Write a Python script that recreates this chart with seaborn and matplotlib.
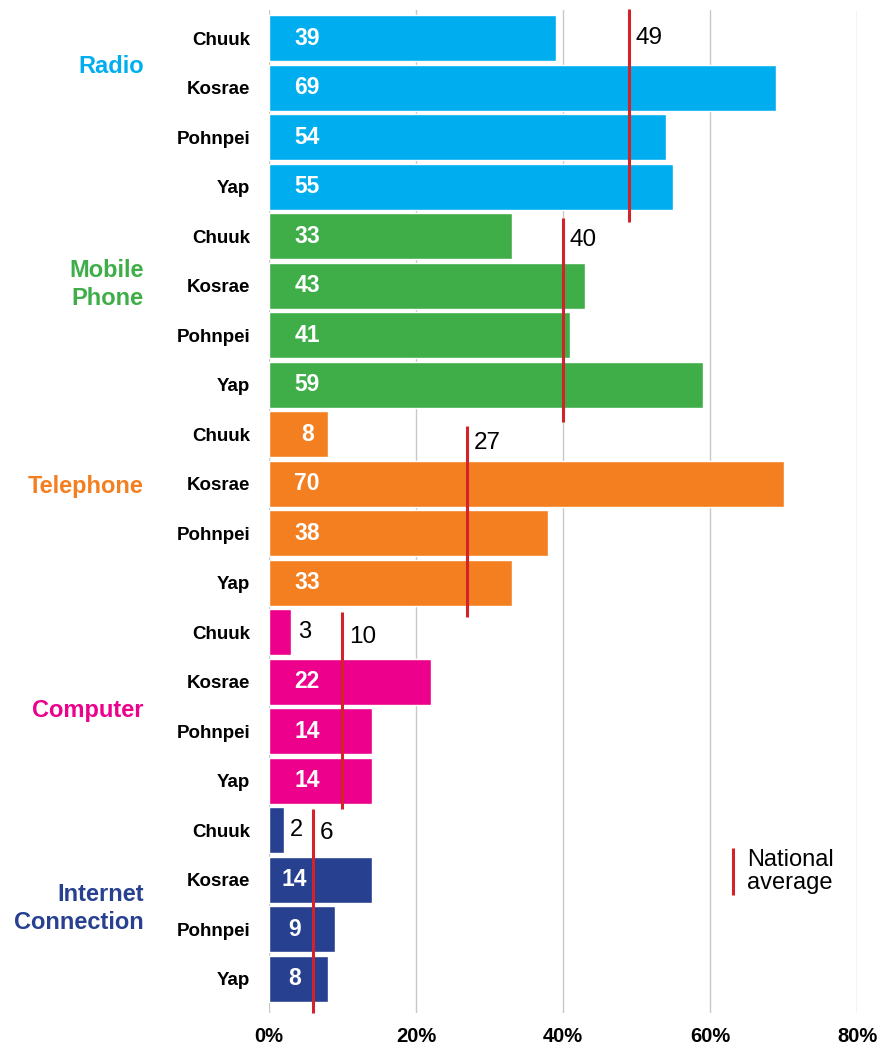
import matplotlib
matplotlib.use("Agg")
import matplotlib.pyplot as plt
import seaborn as sns
import pandas as pd

# Share of households with each communication channel, by state (%)
categories = ["Radio", "Mobile\nPhone", "Telephone", "Computer", "Internet\nConnection"]
states = ["Chuuk", "Kosrae", "Pohnpei", "Yap"]
radio = [39, 69, 54, 55]
mobile_phone = [33, 43, 41, 59]
telephone = [8, 70, 38, 33]
computer = [3, 22, 14, 14]
internet = [2, 14, 9, 8]
national_average = [49, 40, 27, 10, 6]
x_ticks = [0, 20, 40, 60, 80]
x_tick_labels = ["0%", "20%", "40%", "60%", "80%"]

colors = ["#00AEEF", "#3FAE49", "#F47F20", "#EC008C", "#27408F"]
avg_color = "#D2232A"

series = [radio, mobile_phone, telephone, computer, internet]
rows = []
for cat, vals in zip(categories, series):
    for st, v in zip(states, vals):
        rows.append({"row": f"{cat}|{st}", "category": cat, "state": st, "value": v})
df = pd.DataFrame(rows)

sns.set_theme(style="white")
plt.rcParams["font.family"] = ["Liberation Sans", "DejaVu Sans"]

fig = plt.figure(figsize=(8.87, 10.48), dpi=100)
ax = fig.add_axes([269 / 887, 1 - 1013 / 1048, (857 - 269) / 887, (1013 - 10) / 1048])

for xv in x_ticks:
    ax.axvline(xv, color="#C8C8C8", lw=1.0, zorder=0)

sns.barplot(data=df, x="value", y="row", hue="category", palette=colors,
            dodge=False, width=0.93, legend=False, ax=ax, saturation=1,
            zorder=2)

ax.set_xlim(0, 80)
ax.set_ylim(len(df) - 1 + 0.69, -0.57)
ax.set_xticks(x_ticks)
ax.set_xticklabels(x_tick_labels, fontsize=14.5, fontweight="bold", color="black")
ax.set_yticks(range(len(df)))
ax.set_yticklabels(df["state"], fontsize=13.5, fontweight="bold", color="black")
ax.tick_params(axis="y", length=0, pad=13.5)
ax.tick_params(axis="x", length=0, pad=10)
ax.set_xlabel("")
ax.set_ylabel("")
for s in ax.spines.values():
    s.set_visible(False)

n = len(states)

# Value labels: inside the bar (white) or just past its end (black)
for i, (cat, v) in enumerate(zip(df["category"], df["value"])):
    inner_x = 3.5 if cat == categories[-1] else 5.2
    if v >= 6:
        ax.text(inner_x, i, f"{v}", color="white", fontsize=16.5, fontweight="bold",
                ha="center", va="center", zorder=4)
    else:
        ax.text(v + 0.9, i, f"{v}", color="black", fontsize=17,
                ha="left", va="center", zorder=4)

# National average markers per group (start/end offsets in row units)
line_start = [-0.1, 0.14, 0.34, 0.1, 0.06]
line_end = [0.22, 0.26, 0.2, 0.06, 0.18]
label_dy = [0.0, 0.08, 0.18, 0.1, 0.06]
for g, avg in enumerate(national_average):
    top = g * n - 0.5
    ax.plot([avg, avg], [top + line_start[g], top + n + line_end[g]], color=avg_color,
            lw=2.2, zorder=5, solid_capstyle="butt", clip_on=False)
    ax.text(avg + 0.9, g * n + label_dy[g], f"{avg}", color="black", fontsize=17.5,
            ha="left", va="center", zorder=5)

# Group titles on the left
title_rows = [0.57, 4.97, 9.05, 13.58, 17.58]
for cat, col, yr in zip(categories, colors, title_rows):
    ax.text(-0.213, yr, cat, transform=ax.get_yaxis_transform(), color=col,
            fontsize=17, fontweight="bold", ha="right", va="center",
            multialignment="right", linespacing=1.3)

# Legend
ax.plot([63.1, 63.1], [16.36, 17.31], color=avg_color, lw=2.2, solid_capstyle="butt")
ax.text(65.0, 16.84, "National\naverage", color="black", fontsize=17,
        ha="left", va="center", linespacing=1.05)

fig.savefig("out.png", dpi=100)
